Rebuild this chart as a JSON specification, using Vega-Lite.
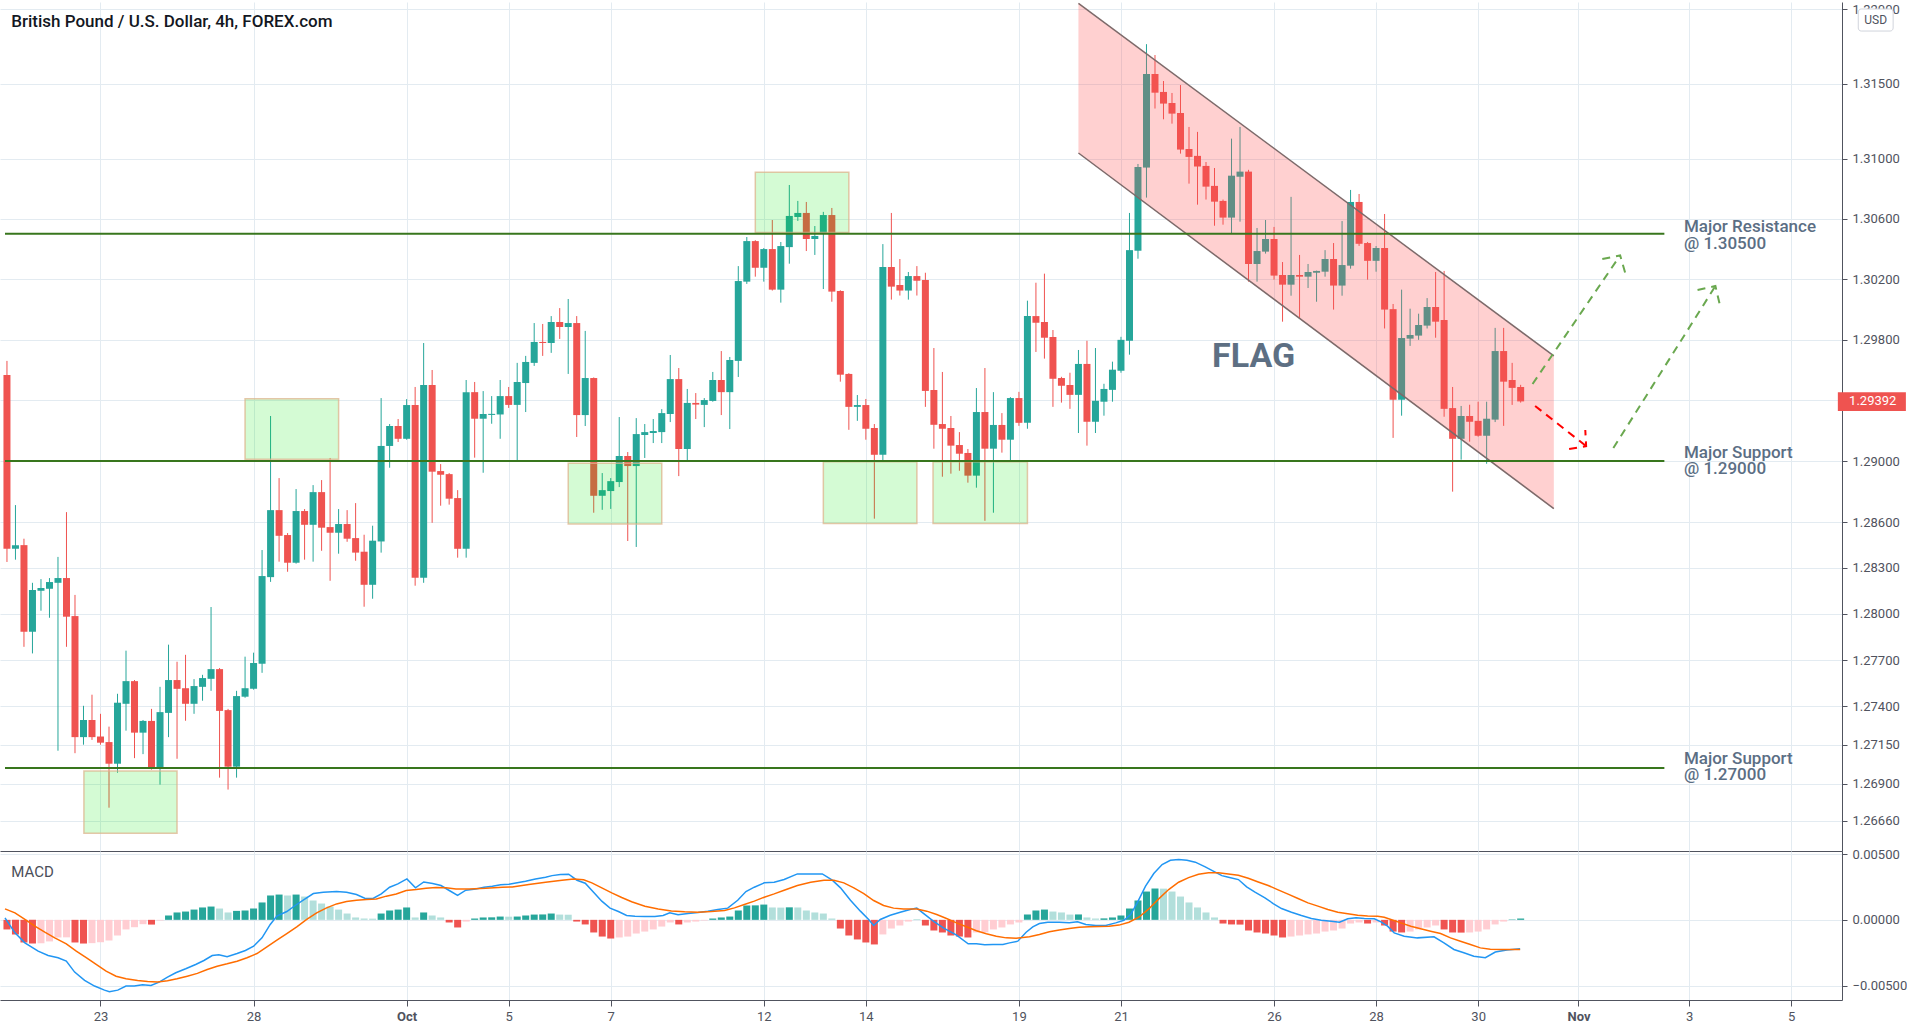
{
"$schema": "https://vega.github.io/schema/vega-lite/v6.json",
"background": "white",
"padding": 0,
"spacing": 0,
"bounds": "flush",
"resolve": {"scale": {"x": "independent", "y": "independent", "color": "independent"}},
"config": {"view": {"stroke": null}, "font": "Roboto"},
"datasets": {
"candles": [
{"i":1,"o":1.29566,"h":1.29659,"l":1.28339,"c":1.28425},
{"i":2,"o":1.28425,"h":1.28711,"l":1.28354,"c":1.28449},
{"i":3,"o":1.28449,"h":1.28491,"l":1.27786,"c":1.27884},
{"i":4,"o":1.27884,"h":1.28203,"l":1.27743,"c":1.28156},
{"i":5,"o":1.28151,"h":1.28227,"l":1.28021,"c":1.28169},
{"i":6,"o":1.28164,"h":1.28234,"l":1.27975,"c":1.28208},
{"i":7,"o":1.28203,"h":1.28372,"l":1.27112,"c":1.28234},
{"i":8,"o":1.28234,"h":1.28665,"l":1.27786,"c":1.27982},
{"i":9,"o":1.27986,"h":1.28124,"l":1.27096,"c":1.27200},
{"i":10,"o":1.27200,"h":1.27403,"l":1.27151,"c":1.27311},
{"i":11,"o":1.27311,"h":1.27475,"l":1.27182,"c":1.27200},
{"i":12,"o":1.27204,"h":1.27351,"l":1.27151,"c":1.27164},
{"i":13,"o":1.27168,"h":1.27268,"l":1.26744,"c":1.27028},
{"i":14,"o":1.27028,"h":1.27481,"l":1.26970,"c":1.27423},
{"i":15,"o":1.27416,"h":1.27761,"l":1.27242,"c":1.27563},
{"i":16,"o":1.27563,"h":1.27570,"l":1.27064,"c":1.27229},
{"i":17,"o":1.27229,"h":1.27311,"l":1.27090,"c":1.27305},
{"i":18,"o":1.27305,"h":1.27383,"l":1.26990,"c":1.26996},
{"i":19,"o":1.26996,"h":1.27526,"l":1.26893,"c":1.27362},
{"i":20,"o":1.27357,"h":1.27800,"l":1.27200,"c":1.27570},
{"i":21,"o":1.27570,"h":1.27689,"l":1.27060,"c":1.27513},
{"i":22,"o":1.27517,"h":1.27734,"l":1.27306,"c":1.27416},
{"i":23,"o":1.27416,"h":1.27576,"l":1.27351,"c":1.27531},
{"i":24,"o":1.27526,"h":1.27604,"l":1.27436,"c":1.27583},
{"i":25,"o":1.27578,"h":1.28045,"l":1.27500,"c":1.27641},
{"i":26,"o":1.27641,"h":1.27648,"l":1.26938,"c":1.27370},
{"i":27,"o":1.27375,"h":1.27383,"l":1.26861,"c":1.27009},
{"i":28,"o":1.27009,"h":1.27500,"l":1.26938,"c":1.27466},
{"i":29,"o":1.27462,"h":1.27722,"l":1.27455,"c":1.27517},
{"i":30,"o":1.27513,"h":1.27748,"l":1.27508,"c":1.27681},
{"i":31,"o":1.27676,"h":1.28417,"l":1.27617,"c":1.28247},
{"i":32,"o":1.28240,"h":1.29296,"l":1.28209,"c":1.28678},
{"i":33,"o":1.28678,"h":1.28888,"l":1.28341,"c":1.28510},
{"i":34,"o":1.28515,"h":1.28528,"l":1.28275,"c":1.28334},
{"i":35,"o":1.28334,"h":1.28816,"l":1.28328,"c":1.28672},
{"i":36,"o":1.28672,"h":1.28685,"l":1.28354,"c":1.28582},
{"i":37,"o":1.28582,"h":1.28842,"l":1.28341,"c":1.28796},
{"i":38,"o":1.28796,"h":1.28875,"l":1.28412,"c":1.28563},
{"i":39,"o":1.28567,"h":1.29020,"l":1.28216,"c":1.28530},
{"i":40,"o":1.28530,"h":1.28685,"l":1.28393,"c":1.28587},
{"i":41,"o":1.28587,"h":1.28678,"l":1.28471,"c":1.28491},
{"i":42,"o":1.28495,"h":1.28724,"l":1.28347,"c":1.28400},
{"i":43,"o":1.28406,"h":1.28517,"l":1.28047,"c":1.28190},
{"i":44,"o":1.28190,"h":1.28576,"l":1.28099,"c":1.28478},
{"i":45,"o":1.28473,"h":1.29414,"l":1.28400,"c":1.29099},
{"i":46,"o":1.29099,"h":1.29243,"l":1.28956,"c":1.29230},
{"i":47,"o":1.29230,"h":1.29276,"l":1.29125,"c":1.29146},
{"i":48,"o":1.29146,"h":1.29407,"l":1.29140,"c":1.29368},
{"i":49,"o":1.29368,"h":1.29487,"l":1.28184,"c":1.28236},
{"i":50,"o":1.28236,"h":1.29777,"l":1.28203,"c":1.29500},
{"i":51,"o":1.29500,"h":1.29599,"l":1.28595,"c":1.28930},
{"i":52,"o":1.28934,"h":1.28980,"l":1.28707,"c":1.28910},
{"i":53,"o":1.28914,"h":1.28921,"l":1.28714,"c":1.28753},
{"i":54,"o":1.28757,"h":1.28809,"l":1.28367,"c":1.28425},
{"i":55,"o":1.28425,"h":1.29533,"l":1.28367,"c":1.29453},
{"i":56,"o":1.29453,"h":1.29520,"l":1.29022,"c":1.29278},
{"i":57,"o":1.29278,"h":1.29460,"l":1.28923,"c":1.29309},
{"i":58,"o":1.29303,"h":1.29427,"l":1.29245,"c":1.29310},
{"i":59,"o":1.29306,"h":1.29533,"l":1.29146,"c":1.29427},
{"i":60,"o":1.29427,"h":1.29487,"l":1.29349,"c":1.29369},
{"i":61,"o":1.29369,"h":1.29646,"l":1.29000,"c":1.29520},
{"i":62,"o":1.29513,"h":1.29692,"l":1.29322,"c":1.29652},
{"i":63,"o":1.29646,"h":1.29909,"l":1.29626,"c":1.29784},
{"i":64,"o":1.29784,"h":1.29903,"l":1.29692,"c":1.29777},
{"i":65,"o":1.29777,"h":1.29955,"l":1.29712,"c":1.29916},
{"i":66,"o":1.29916,"h":1.30008,"l":1.29804,"c":1.29883},
{"i":67,"o":1.29883,"h":1.30068,"l":1.29573,"c":1.29909},
{"i":68,"o":1.29909,"h":1.29955,"l":1.29158,"c":1.29302},
{"i":69,"o":1.29302,"h":1.29857,"l":1.29230,"c":1.29546},
{"i":70,"o":1.29546,"h":1.29550,"l":1.28661,"c":1.28772},
{"i":71,"o":1.28772,"h":1.28921,"l":1.28680,"c":1.28809},
{"i":72,"o":1.28803,"h":1.28888,"l":1.28686,"c":1.28868},
{"i":73,"o":1.28862,"h":1.29289,"l":1.28829,"c":1.29033},
{"i":74,"o":1.29033,"h":1.29059,"l":1.28476,"c":1.28967},
{"i":75,"o":1.28967,"h":1.29282,"l":1.28437,"c":1.29177},
{"i":76,"o":1.29171,"h":1.29243,"l":1.29020,"c":1.29190},
{"i":77,"o":1.29184,"h":1.29276,"l":1.29118,"c":1.29197},
{"i":78,"o":1.29190,"h":1.29341,"l":1.29118,"c":1.29315},
{"i":79,"o":1.29309,"h":1.29698,"l":1.29256,"c":1.29539},
{"i":80,"o":1.29539,"h":1.29612,"l":1.28901,"c":1.29079},
{"i":81,"o":1.29079,"h":1.29474,"l":1.29000,"c":1.29382},
{"i":82,"o":1.29382,"h":1.29447,"l":1.29276,"c":1.29371},
{"i":83,"o":1.29369,"h":1.29414,"l":1.29223,"c":1.29401},
{"i":84,"o":1.29395,"h":1.29586,"l":1.29390,"c":1.29533},
{"i":85,"o":1.29533,"h":1.29724,"l":1.29302,"c":1.29453},
{"i":86,"o":1.29453,"h":1.29685,"l":1.29210,"c":1.29665},
{"i":87,"o":1.29659,"h":1.30286,"l":1.29553,"c":1.30187},
{"i":88,"o":1.30183,"h":1.30479,"l":1.30168,"c":1.30452},
{"i":89,"o":1.30452,"h":1.30458,"l":1.30216,"c":1.30275},
{"i":90,"o":1.30275,"h":1.30406,"l":1.30183,"c":1.30399},
{"i":91,"o":1.30399,"h":1.30592,"l":1.30124,"c":1.30130},
{"i":92,"o":1.30130,"h":1.30446,"l":1.30044,"c":1.30419},
{"i":93,"o":1.30412,"h":1.30825,"l":1.30302,"c":1.30619},
{"i":94,"o":1.30612,"h":1.30719,"l":1.30586,"c":1.30639},
{"i":95,"o":1.30639,"h":1.30712,"l":1.30386,"c":1.30466},
{"i":96,"o":1.30466,"h":1.30552,"l":1.30360,"c":1.30486},
{"i":97,"o":1.30499,"h":1.30646,"l":1.30134,"c":1.30625},
{"i":98,"o":1.30625,"h":1.30672,"l":1.30050,"c":1.30117},
{"i":99,"o":1.30121,"h":1.30126,"l":1.29522,"c":1.29568},
{"i":100,"o":1.29573,"h":1.29578,"l":1.29205,"c":1.29356},
{"i":101,"o":1.29356,"h":1.29434,"l":1.29264,"c":1.29368},
{"i":102,"o":1.29368,"h":1.29408,"l":1.29140,"c":1.29212},
{"i":103,"o":1.29217,"h":1.29243,"l":1.28622,"c":1.29041},
{"i":104,"o":1.29041,"h":1.30432,"l":1.29002,"c":1.30280},
{"i":105,"o":1.30280,"h":1.30639,"l":1.30064,"c":1.30150},
{"i":106,"o":1.30161,"h":1.30333,"l":1.30091,"c":1.30124},
{"i":107,"o":1.30124,"h":1.30247,"l":1.30064,"c":1.30220},
{"i":108,"o":1.30220,"h":1.30286,"l":1.30091,"c":1.30189},
{"i":109,"o":1.30194,"h":1.30242,"l":1.29356,"c":1.29461},
{"i":110,"o":1.29467,"h":1.29744,"l":1.29081,"c":1.29238},
{"i":111,"o":1.29243,"h":1.29586,"l":1.28897,"c":1.29212},
{"i":112,"o":1.29217,"h":1.29296,"l":1.28917,"c":1.29101},
{"i":113,"o":1.29105,"h":1.29190,"l":1.28936,"c":1.29048},
{"i":114,"o":1.29053,"h":1.29079,"l":1.28858,"c":1.28904},
{"i":115,"o":1.28904,"h":1.29480,"l":1.28825,"c":1.29322},
{"i":116,"o":1.29322,"h":1.29612,"l":1.28608,"c":1.29081},
{"i":117,"o":1.29081,"h":1.29453,"l":1.28661,"c":1.29237},
{"i":118,"o":1.29237,"h":1.29315,"l":1.29055,"c":1.29140},
{"i":119,"o":1.29140,"h":1.29420,"l":1.29000,"c":1.29414},
{"i":120,"o":1.29414,"h":1.29455,"l":1.29231,"c":1.29251},
{"i":121,"o":1.29251,"h":1.30057,"l":1.29212,"c":1.29955},
{"i":122,"o":1.29955,"h":1.30176,"l":1.29718,"c":1.29911},
{"i":123,"o":1.29916,"h":1.30236,"l":1.29674,"c":1.29812},
{"i":124,"o":1.29817,"h":1.29863,"l":1.29356,"c":1.29541},
{"i":125,"o":1.29546,"h":1.29554,"l":1.29384,"c":1.29495},
{"i":126,"o":1.29500,"h":1.29581,"l":1.29343,"c":1.29435},
{"i":127,"o":1.29435,"h":1.29731,"l":1.29184,"c":1.29639},
{"i":128,"o":1.29639,"h":1.29792,"l":1.29101,"c":1.29258},
{"i":129,"o":1.29258,"h":1.29744,"l":1.29184,"c":1.29396},
{"i":130,"o":1.29390,"h":1.29508,"l":1.29298,"c":1.29474},
{"i":131,"o":1.29468,"h":1.29654,"l":1.29390,"c":1.29601},
{"i":132,"o":1.29594,"h":1.29818,"l":1.29581,"c":1.29798},
{"i":133,"o":1.29792,"h":1.30639,"l":1.29700,"c":1.30392},
{"i":134,"o":1.30388,"h":1.30965,"l":1.30335,"c":1.30945},
{"i":135,"o":1.30941,"h":1.31766,"l":1.30741,"c":1.31566},
{"i":136,"o":1.31566,"h":1.31693,"l":1.31335,"c":1.31441},
{"i":137,"o":1.31446,"h":1.31519,"l":1.31263,"c":1.31368},
{"i":138,"o":1.31372,"h":1.31439,"l":1.31234,"c":1.31301},
{"i":139,"o":1.31305,"h":1.31492,"l":1.31034,"c":1.31061},
{"i":140,"o":1.31065,"h":1.31212,"l":1.30834,"c":1.31012},
{"i":141,"o":1.31019,"h":1.31179,"l":1.30694,"c":1.30948},
{"i":142,"o":1.30952,"h":1.30978,"l":1.30728,"c":1.30814},
{"i":143,"o":1.30819,"h":1.30938,"l":1.30554,"c":1.30714},
{"i":144,"o":1.30719,"h":1.30728,"l":1.30561,"c":1.30608},
{"i":145,"o":1.30608,"h":1.31134,"l":1.30501,"c":1.30887},
{"i":146,"o":1.30880,"h":1.31212,"l":1.30581,"c":1.30914},
{"i":147,"o":1.30914,"h":1.30926,"l":1.30183,"c":1.30300},
{"i":148,"o":1.30300,"h":1.30539,"l":1.30183,"c":1.30386},
{"i":149,"o":1.30382,"h":1.30592,"l":1.30369,"c":1.30466},
{"i":150,"o":1.30466,"h":1.30546,"l":1.30196,"c":1.30223},
{"i":151,"o":1.30227,"h":1.30313,"l":1.29918,"c":1.30163},
{"i":152,"o":1.30163,"h":1.30746,"l":1.30090,"c":1.30227},
{"i":153,"o":1.30227,"h":1.30360,"l":1.29944,"c":1.30216},
{"i":154,"o":1.30216,"h":1.30300,"l":1.30141,"c":1.30247},
{"i":155,"o":1.30242,"h":1.30256,"l":1.30050,"c":1.30254},
{"i":156,"o":1.30249,"h":1.30392,"l":1.30216,"c":1.30333},
{"i":157,"o":1.30333,"h":1.30439,"l":1.29998,"c":1.30157},
{"i":158,"o":1.30157,"h":1.30585,"l":1.30090,"c":1.30293},
{"i":159,"o":1.30289,"h":1.30792,"l":1.30269,"c":1.30712},
{"i":160,"o":1.30712,"h":1.30765,"l":1.30420,"c":1.30434},
{"i":161,"o":1.30439,"h":1.30446,"l":1.30196,"c":1.30321},
{"i":162,"o":1.30321,"h":1.30419,"l":1.30249,"c":1.30406},
{"i":163,"o":1.30406,"h":1.30632,"l":1.29873,"c":1.29998},
{"i":164,"o":1.30001,"h":1.30035,"l":1.29152,"c":1.29403},
{"i":165,"o":1.29403,"h":1.30130,"l":1.29298,"c":1.29810},
{"i":166,"o":1.29806,"h":1.30004,"l":1.29758,"c":1.29830},
{"i":167,"o":1.29826,"h":1.29971,"l":1.29798,"c":1.29896},
{"i":168,"o":1.29892,"h":1.30074,"l":1.29873,"c":1.30015},
{"i":169,"o":1.30015,"h":1.30247,"l":1.29812,"c":1.29918},
{"i":170,"o":1.29929,"h":1.30254,"l":1.29291,"c":1.29343},
{"i":171,"o":1.29348,"h":1.29487,"l":1.28799,"c":1.29146},
{"i":172,"o":1.29146,"h":1.29362,"l":1.29009,"c":1.29296},
{"i":173,"o":1.29296,"h":1.29370,"l":1.29127,"c":1.29258},
{"i":174,"o":1.29264,"h":1.29390,"l":1.29160,"c":1.29166},
{"i":175,"o":1.29166,"h":1.29390,"l":1.28982,"c":1.29278},
{"i":176,"o":1.29272,"h":1.29877,"l":1.29256,"c":1.29724},
{"i":177,"o":1.29724,"h":1.29877,"l":1.29231,"c":1.29522},
{"i":178,"o":1.29533,"h":1.29646,"l":1.29369,"c":1.29481},
{"i":179,"o":1.29487,"h":1.29501,"l":1.29384,"c":1.29392}
],
"hist": [
{"i":1,"h":-0.00073,"d":"f"},{"i":2,"h":-0.00111,"d":"f"},{"i":3,"h":-0.00172,"d":"f"},{"i":4,"h":-0.00180,"d":"f"},{"i":5,"h":-0.00178,"d":"r"},{"i":6,"h":-0.00164,"d":"r"},{"i":7,"h":-0.00134,"d":"r"},{"i":8,"h":-0.00133,"d":"r"},{"i":9,"h":-0.00172,"d":"f"},{"i":10,"h":-0.00180,"d":"f"},
{"i":11,"h":-0.00177,"d":"r"},{"i":12,"h":-0.00170,"d":"r"},{"i":13,"h":-0.00157,"d":"r"},{"i":14,"h":-0.00119,"d":"r"},{"i":15,"h":-0.00073,"d":"r"},{"i":16,"h":-0.00056,"d":"r"},{"i":17,"h":-0.00033,"d":"r"},{"i":18,"h":-0.00036,"d":"f"},{"i":19,"h":-0.00005,"d":"r"},{"i":20,"h":0.00033,"d":"r"},
{"i":21,"h":0.00056,"d":"r"},{"i":22,"h":0.00063,"d":"r"},{"i":23,"h":0.00078,"d":"r"},{"i":24,"h":0.00094,"d":"r"},{"i":25,"h":0.00101,"d":"r"},{"i":26,"h":0.00086,"d":"f"},{"i":27,"h":0.00056,"d":"f"},{"i":28,"h":0.00068,"d":"r"},{"i":29,"h":0.00071,"d":"r"},{"i":30,"h":0.00086,"d":"r"},
{"i":31,"h":0.00132,"d":"r"},{"i":32,"h":0.00185,"d":"r"},{"i":33,"h":0.00192,"d":"r"},{"i":34,"h":0.00185,"d":"f"},{"i":35,"h":0.00192,"d":"r"},{"i":36,"h":0.00177,"d":"f"},{"i":37,"h":0.00147,"d":"f"},{"i":38,"h":0.00124,"d":"f"},{"i":39,"h":0.00101,"d":"f"},{"i":40,"h":0.00078,"d":"f"},
{"i":41,"h":0.00048,"d":"f"},{"i":42,"h":0.00018,"d":"f"},{"i":43,"h":0.00010,"d":"f"},{"i":44,"h":0.00009,"d":"f"},{"i":45,"h":0.00048,"d":"r"},{"i":46,"h":0.00071,"d":"r"},{"i":47,"h":0.00078,"d":"r"},{"i":48,"h":0.00094,"d":"r"},{"i":49,"h":0.00018,"d":"f"},{"i":50,"h":0.00056,"d":"r"},
{"i":51,"h":0.00033,"d":"f"},{"i":52,"h":0.00018,"d":"f"},{"i":53,"h":-0.00020,"d":"f"},{"i":54,"h":-0.00058,"d":"f"},{"i":55,"h":-0.00013,"d":"r"},{"i":56,"h":0.00010,"d":"r"},{"i":57,"h":0.00018,"d":"r"},{"i":58,"h":0.00019,"d":"r"},{"i":59,"h":0.00025,"d":"r"},{"i":60,"h":0.00024,"d":"f"},
{"i":61,"h":0.00025,"d":"r"},{"i":62,"h":0.00033,"d":"r"},{"i":63,"h":0.00040,"d":"r"},{"i":64,"h":0.00041,"d":"r"},{"i":65,"h":0.00048,"d":"r"},{"i":66,"h":0.00040,"d":"f"},{"i":67,"h":0.00039,"d":"f"},{"i":68,"h":-0.00013,"d":"f"},{"i":69,"h":-0.00035,"d":"f"},{"i":70,"h":-0.00096,"d":"f"},
{"i":71,"h":-0.00127,"d":"f"},{"i":72,"h":-0.00142,"d":"f"},{"i":73,"h":-0.00134,"d":"r"},{"i":74,"h":-0.00127,"d":"r"},{"i":75,"h":-0.00104,"d":"r"},{"i":76,"h":-0.00089,"d":"r"},{"i":77,"h":-0.00073,"d":"r"},{"i":78,"h":-0.00051,"d":"r"},{"i":79,"h":-0.00020,"d":"r"},{"i":80,"h":-0.00035,"d":"f"},
{"i":81,"h":-0.00020,"d":"r"},{"i":82,"h":-0.00013,"d":"r"},{"i":83,"h":-0.00005,"d":"r"},{"i":84,"h":0.00010,"d":"r"},{"i":85,"h":0.00018,"d":"r"},{"i":86,"h":0.00025,"d":"r"},{"i":87,"h":0.00071,"d":"r"},{"i":88,"h":0.00109,"d":"r"},{"i":89,"h":0.00110,"d":"r"},{"i":90,"h":0.00116,"d":"r"},
{"i":91,"h":0.00094,"d":"f"},{"i":92,"h":0.00093,"d":"f"},{"i":93,"h":0.00095,"d":"r"},{"i":94,"h":0.00094,"d":"f"},{"i":95,"h":0.00071,"d":"f"},{"i":96,"h":0.00056,"d":"f"},{"i":97,"h":0.00048,"d":"f"},{"i":98,"h":0.00010,"d":"f"},{"i":99,"h":-0.00066,"d":"f"},{"i":100,"h":-0.00119,"d":"f"},
{"i":101,"h":-0.00149,"d":"f"},{"i":102,"h":-0.00172,"d":"f"},{"i":103,"h":-0.00187,"d":"f"},{"i":104,"h":-0.00111,"d":"r"},{"i":105,"h":-0.00066,"d":"r"},{"i":106,"h":-0.00043,"d":"r"},{"i":107,"h":-0.00013,"d":"r"},{"i":108,"h":0.00002,"d":"r"},{"i":109,"h":-0.00043,"d":"f"},{"i":110,"h":-0.00081,"d":"f"},
{"i":111,"h":-0.00096,"d":"f"},{"i":112,"h":-0.00119,"d":"f"},{"i":113,"h":-0.00127,"d":"f"},{"i":114,"h":-0.00134,"d":"f"},{"i":115,"h":-0.00096,"d":"r"},{"i":116,"h":-0.00095,"d":"r"},{"i":117,"h":-0.00073,"d":"r"},{"i":118,"h":-0.00058,"d":"r"},{"i":119,"h":-0.00035,"d":"r"},{"i":120,"h":-0.00020,"d":"r"},
{"i":121,"h":0.00040,"d":"r"},{"i":122,"h":0.00071,"d":"r"},{"i":123,"h":0.00078,"d":"r"},{"i":124,"h":0.00063,"d":"f"},{"i":125,"h":0.00056,"d":"f"},{"i":126,"h":0.00040,"d":"f"},{"i":127,"h":0.00041,"d":"r"},{"i":128,"h":0.00018,"d":"f"},{"i":129,"h":0.00010,"d":"f"},{"i":130,"h":0.00011,"d":"r"},
{"i":131,"h":0.00018,"d":"r"},{"i":132,"h":0.00033,"d":"r"},{"i":133,"h":0.00086,"d":"r"},{"i":134,"h":0.00147,"d":"r"},{"i":135,"h":0.00215,"d":"r"},{"i":136,"h":0.00238,"d":"r"},{"i":137,"h":0.00237,"d":"f"},{"i":138,"h":0.00215,"d":"f"},{"i":139,"h":0.00177,"d":"f"},{"i":140,"h":0.00132,"d":"f"},
{"i":141,"h":0.00094,"d":"f"},{"i":142,"h":0.00056,"d":"f"},{"i":143,"h":0.00018,"d":"f"},{"i":144,"h":-0.00028,"d":"f"},{"i":145,"h":-0.00035,"d":"f"},{"i":146,"h":-0.00036,"d":"f"},{"i":147,"h":-0.00081,"d":"f"},{"i":148,"h":-0.00096,"d":"f"},{"i":149,"h":-0.00104,"d":"f"},{"i":150,"h":-0.00119,"d":"f"},
{"i":151,"h":-0.00134,"d":"f"},{"i":152,"h":-0.00127,"d":"r"},{"i":153,"h":-0.00119,"d":"r"},{"i":154,"h":-0.00111,"d":"r"},{"i":155,"h":-0.00104,"d":"r"},{"i":156,"h":-0.00089,"d":"r"},{"i":157,"h":-0.00081,"d":"r"},{"i":158,"h":-0.00066,"d":"r"},{"i":159,"h":-0.00028,"d":"r"},{"i":160,"h":-0.00020,"d":"r"},
{"i":161,"h":-0.00028,"d":"f"},{"i":162,"h":-0.00020,"d":"r"},{"i":163,"h":-0.00043,"d":"f"},{"i":164,"h":-0.00089,"d":"f"},{"i":165,"h":-0.00096,"d":"f"},{"i":166,"h":-0.00089,"d":"r"},{"i":167,"h":-0.00073,"d":"r"},{"i":168,"h":-0.00058,"d":"r"},{"i":169,"h":-0.00043,"d":"r"},{"i":170,"h":-0.00073,"d":"f"},
{"i":171,"h":-0.00096,"d":"f"},{"i":172,"h":-0.00097,"d":"f"},{"i":173,"h":-0.00096,"d":"r"},{"i":174,"h":-0.00089,"d":"r"},{"i":175,"h":-0.00073,"d":"r"},{"i":176,"h":-0.00035,"d":"r"},{"i":177,"h":-0.00013,"d":"r"},{"i":178,"h":0.00003,"d":"r"},{"i":179,"h":0.00010,"d":"r"}
],
"lines": [
{"i":0.77,"v":0.00015,"s":"MACD"},{"i":1.94,"v":-0.00099,"s":"MACD"},{"i":3.11,"v":-0.00175,"s":"MACD"},{"i":4.67,"v":-0.00238,"s":"MACD"},{"i":5.84,"v":-0.00271,"s":"MACD"},{"i":7.01,"v":-0.00288,"s":"MACD"},{"i":7.98,"v":-0.00314,"s":"MACD"},{"i":8.96,"v":-0.00397,"s":"MACD"},{"i":10.13,"v":-0.0046,"s":"MACD"},{"i":11.3,"v":-0.00503,"s":"MACD"},
{"i":12.47,"v":-0.00534,"s":"MACD"},{"i":13.05,"v":-0.00546,"s":"MACD"},{"i":14.03,"v":-0.00534,"s":"MACD"},{"i":15.0,"v":-0.00503,"s":"MACD"},{"i":15.98,"v":-0.00503,"s":"MACD"},{"i":16.95,"v":-0.00493,"s":"MACD"},{"i":17.93,"v":-0.00498,"s":"MACD"},{"i":18.9,"v":-0.00473,"s":"MACD"},{"i":19.88,"v":-0.00435,"s":"MACD"},{"i":20.85,"v":-0.00402,"s":"MACD"},
{"i":22.02,"v":-0.00372,"s":"MACD"},{"i":23.19,"v":-0.00339,"s":"MACD"},{"i":24.16,"v":-0.00309,"s":"MACD"},{"i":25.14,"v":-0.00271,"s":"MACD"},{"i":25.92,"v":-0.00266,"s":"MACD"},{"i":26.89,"v":-0.00281,"s":"MACD"},{"i":28.06,"v":-0.00256,"s":"MACD"},{"i":29.04,"v":-0.00233,"s":"MACD"},{"i":30.01,"v":-0.002,"s":"MACD"},{"i":30.99,"v":-0.00137,"s":"MACD"},
{"i":31.96,"v":-0.00035,"s":"MACD"},{"i":32.74,"v":0.00028,"s":"MACD"},{"i":33.91,"v":0.00063,"s":"MACD"},{"i":34.89,"v":0.00109,"s":"MACD"},{"i":36.06,"v":0.00159,"s":"MACD"},{"i":37.03,"v":0.002,"s":"MACD"},{"i":38.2,"v":0.0021,"s":"MACD"},{"i":39.76,"v":0.00215,"s":"MACD"},{"i":40.93,"v":0.0021,"s":"MACD"},{"i":42.1,"v":0.00192,"s":"MACD"},
{"i":43.07,"v":0.00164,"s":"MACD"},{"i":44.05,"v":0.00162,"s":"MACD"},{"i":45.02,"v":0.00197,"s":"MACD"},{"i":46.0,"v":0.00248,"s":"MACD"},{"i":46.97,"v":0.00273,"s":"MACD"},{"i":48.03,"v":0.00311,"s":"MACD"},{"i":49.04,"v":0.00243,"s":"MACD"},{"i":50.01,"v":0.00288,"s":"MACD"},{"i":51.06,"v":0.00276,"s":"MACD"},{"i":52.04,"v":0.00261,"s":"MACD"},
{"i":53.01,"v":0.00223,"s":"MACD"},{"i":53.99,"v":0.00185,"s":"MACD"},{"i":54.96,"v":0.00225,"s":"MACD"},{"i":56.13,"v":0.00235,"s":"MACD"},{"i":57.11,"v":0.00248,"s":"MACD"},{"i":58.08,"v":0.00256,"s":"MACD"},{"i":59.06,"v":0.00266,"s":"MACD"},{"i":60.03,"v":0.00271,"s":"MACD"},{"i":61.98,"v":0.00293,"s":"MACD"},{"i":63.15,"v":0.00311,"s":"MACD"},
{"i":64.34,"v":0.00324,"s":"MACD"},{"i":65.1,"v":0.00336,"s":"MACD"},{"i":66.08,"v":0.00344,"s":"MACD"},{"i":67.05,"v":0.00347,"s":"MACD"},{"i":68.03,"v":0.00301,"s":"MACD"},{"i":69.0,"v":0.00278,"s":"MACD"},{"i":69.98,"v":0.0021,"s":"MACD"},{"i":70.95,"v":0.00142,"s":"MACD"},{"i":71.92,"v":0.00089,"s":"MACD"},{"i":72.9,"v":0.00063,"s":"MACD"},
{"i":73.87,"v":0.00033,"s":"MACD"},{"i":74.85,"v":0.00028,"s":"MACD"},{"i":76.02,"v":0.00025,"s":"MACD"},{"i":77.19,"v":0.00025,"s":"MACD"},{"i":78.16,"v":0.00033,"s":"MACD"},{"i":78.94,"v":0.00053,"s":"MACD"},{"i":79.92,"v":0.00038,"s":"MACD"},{"i":81.09,"v":0.00048,"s":"MACD"},{"i":82.26,"v":0.00056,"s":"MACD"},{"i":83.42,"v":0.00066,"s":"MACD"},
{"i":84.59,"v":0.00078,"s":"MACD"},{"i":85.76,"v":0.00089,"s":"MACD"},{"i":86.93,"v":0.00149,"s":"MACD"},{"i":87.9,"v":0.00215,"s":"MACD"},{"i":88.88,"v":0.00248,"s":"MACD"},{"i":90.05,"v":0.00281,"s":"MACD"},{"i":91.22,"v":0.00286,"s":"MACD"},{"i":92.39,"v":0.00306,"s":"MACD"},{"i":93.95,"v":0.00349,"s":"MACD"},{"i":95.51,"v":0.00349,"s":"MACD"},
{"i":96.88,"v":0.00349,"s":"MACD"},{"i":98.05,"v":0.00301,"s":"MACD"},{"i":99.02,"v":0.00243,"s":"MACD"},{"i":100.19,"v":0.00149,"s":"MACD"},{"i":101.36,"v":0.00066,"s":"MACD"},{"i":102.33,"v":0.00003,"s":"MACD"},{"i":102.92,"v":-0.00043,"s":"MACD"},{"i":103.7,"v":0.00003,"s":"MACD"},{"i":104.87,"v":0.00035,"s":"MACD"},{"i":106.04,"v":0.00058,"s":"MACD"},
{"i":107.21,"v":0.00078,"s":"MACD"},{"i":107.99,"v":0.00089,"s":"MACD"},{"i":108.96,"v":0.0004,"s":"MACD"},{"i":109.94,"v":-0.0001,"s":"MACD"},{"i":111.11,"v":-0.00061,"s":"MACD"},{"i":112.67,"v":-0.00116,"s":"MACD"},{"i":114.03,"v":-0.00182,"s":"MACD"},{"i":115.0,"v":-0.00182,"s":"MACD"},{"i":115.98,"v":-0.0019,"s":"MACD"},{"i":116.95,"v":-0.00187,"s":"MACD"},
{"i":118.12,"v":-0.00187,"s":"MACD"},{"i":118.9,"v":-0.00175,"s":"MACD"},{"i":119.87,"v":-0.00162,"s":"MACD"},{"i":120.85,"v":-0.00094,"s":"MACD"},{"i":121.63,"v":-0.00053,"s":"MACD"},{"i":122.41,"v":-0.00028,"s":"MACD"},{"i":123.39,"v":-0.00018,"s":"MACD"},{"i":124.75,"v":-0.00018,"s":"MACD"},{"i":125.92,"v":-0.00023,"s":"MACD"},{"i":126.89,"v":-0.00015,"s":"MACD"},
{"i":127.87,"v":-0.00035,"s":"MACD"},{"i":129.04,"v":-0.00043,"s":"MACD"},{"i":130.21,"v":-0.00043,"s":"MACD"},{"i":131.38,"v":-0.00023,"s":"MACD"},{"i":132.35,"v":-0.00003,"s":"MACD"},{"i":133.13,"v":0.0004,"s":"MACD"},{"i":133.91,"v":0.00129,"s":"MACD"},{"i":134.89,"v":0.00256,"s":"MACD"},{"i":135.86,"v":0.00352,"s":"MACD"},{"i":136.84,"v":0.0042,"s":"MACD"},
{"i":137.81,"v":0.00453,"s":"MACD"},{"i":138.79,"v":0.00458,"s":"MACD"},{"i":139.76,"v":0.00453,"s":"MACD"},{"i":140.74,"v":0.00438,"s":"MACD"},{"i":141.91,"v":0.00402,"s":"MACD"},{"i":143.08,"v":0.00362,"s":"MACD"},{"i":143.86,"v":0.00336,"s":"MACD"},{"i":144.64,"v":0.00324,"s":"MACD"},{"i":145.81,"v":0.00306,"s":"MACD"},{"i":146.78,"v":0.0025,"s":"MACD"},
{"i":147.76,"v":0.0021,"s":"MACD"},{"i":148.93,"v":0.00167,"s":"MACD"},{"i":149.9,"v":0.00124,"s":"MACD"},{"i":150.88,"v":0.00086,"s":"MACD"},{"i":152.05,"v":0.00058,"s":"MACD"},{"i":153.22,"v":0.00033,"s":"MACD"},{"i":154.39,"v":0.0001,"s":"MACD"},{"i":155.55,"v":-0.00003,"s":"MACD"},{"i":156.72,"v":-0.0001,"s":"MACD"},{"i":157.7,"v":-0.00018,"s":"MACD"},
{"i":158.67,"v":0.00008,"s":"MACD"},{"i":159.65,"v":0.00015,"s":"MACD"},{"i":160.62,"v":0.0001,"s":"MACD"},{"i":161.79,"v":0.00008,"s":"MACD"},{"i":162.57,"v":-0.00015,"s":"MACD"},{"i":163.35,"v":-0.00048,"s":"MACD"},{"i":164.13,"v":-0.00099,"s":"MACD"},{"i":165.3,"v":-0.00124,"s":"MACD"},{"i":166.86,"v":-0.00137,"s":"MACD"},{"i":168.81,"v":-0.00129,"s":"MACD"},
{"i":169.98,"v":-0.00175,"s":"MACD"},{"i":171.15,"v":-0.00225,"s":"MACD"},{"i":172.32,"v":-0.0025,"s":"MACD"},{"i":173.49,"v":-0.00276,"s":"MACD"},{"i":174.85,"v":-0.00288,"s":"MACD"},{"i":176.02,"v":-0.00245,"s":"MACD"},{"i":177.38,"v":-0.0023,"s":"MACD"},{"i":178.94,"v":-0.0022,"s":"MACD"},
{"i":0.77,"v":0.00083,"s":"Signal"},{"i":1.94,"v":0.00053,"s":"Signal"},{"i":3.11,"v":0.00003,"s":"Signal"},{"i":4.28,"v":-0.00048,"s":"Signal"},{"i":5.45,"v":-0.00094,"s":"Signal"},{"i":6.62,"v":-0.00137,"s":"Signal"},{"i":7.98,"v":-0.00182,"s":"Signal"},{"i":9.15,"v":-0.00238,"s":"Signal"},{"i":10.32,"v":-0.00288,"s":"Signal"},{"i":11.49,"v":-0.00339,"s":"Signal"},
{"i":12.66,"v":-0.0039,"s":"Signal"},{"i":13.83,"v":-0.00428,"s":"Signal"},{"i":15.0,"v":-0.00448,"s":"Signal"},{"i":16.37,"v":-0.0046,"s":"Signal"},{"i":17.54,"v":-0.00468,"s":"Signal"},{"i":18.71,"v":-0.00473,"s":"Signal"},{"i":19.88,"v":-0.00463,"s":"Signal"},{"i":21.0,"v":-0.00448,"s":"Signal"},{"i":22.2,"v":-0.00428,"s":"Signal"},{"i":23.39,"v":-0.00407,"s":"Signal"},
{"i":24.55,"v":-0.00377,"s":"Signal"},{"i":25.72,"v":-0.00352,"s":"Signal"},{"i":26.89,"v":-0.00334,"s":"Signal"},{"i":28.06,"v":-0.00314,"s":"Signal"},{"i":29.23,"v":-0.00288,"s":"Signal"},{"i":30.4,"v":-0.00256,"s":"Signal"},{"i":31.57,"v":-0.00205,"s":"Signal"},{"i":32.74,"v":-0.00154,"s":"Signal"},{"i":33.91,"v":-0.00104,"s":"Signal"},{"i":35.08,"v":-0.00053,"s":"Signal"},
{"i":36.25,"v":0.00003,"s":"Signal"},{"i":37.42,"v":0.00053,"s":"Signal"},{"i":38.59,"v":0.00091,"s":"Signal"},{"i":39.76,"v":0.00121,"s":"Signal"},{"i":40.93,"v":0.00139,"s":"Signal"},{"i":42.1,"v":0.00149,"s":"Signal"},{"i":43.27,"v":0.00154,"s":"Signal"},{"i":44.44,"v":0.00159,"s":"Signal"},{"i":45.61,"v":0.0018,"s":"Signal"},{"i":46.78,"v":0.00197,"s":"Signal"},
{"i":47.95,"v":0.00223,"s":"Signal"},{"i":49.12,"v":0.0023,"s":"Signal"},{"i":50.28,"v":0.0024,"s":"Signal"},{"i":51.45,"v":0.00245,"s":"Signal"},{"i":52.63,"v":0.00243,"s":"Signal"},{"i":53.8,"v":0.00235,"s":"Signal"},{"i":55.35,"v":0.00235,"s":"Signal"},{"i":57.3,"v":0.0024,"s":"Signal"},{"i":59.25,"v":0.00248,"s":"Signal"},{"i":60.42,"v":0.0025,"s":"Signal"},
{"i":62.37,"v":0.00268,"s":"Signal"},{"i":64.34,"v":0.00286,"s":"Signal"},{"i":66.27,"v":0.00301,"s":"Signal"},{"i":67.64,"v":0.00311,"s":"Signal"},{"i":68.81,"v":0.00304,"s":"Signal"},{"i":69.78,"v":0.00281,"s":"Signal"},{"i":70.95,"v":0.00243,"s":"Signal"},{"i":72.12,"v":0.00205,"s":"Signal"},{"i":73.29,"v":0.0017,"s":"Signal"},{"i":74.46,"v":0.00137,"s":"Signal"},
{"i":76.02,"v":0.00104,"s":"Signal"},{"i":77.58,"v":0.00083,"s":"Signal"},{"i":79.13,"v":0.00068,"s":"Signal"},{"i":80.69,"v":0.00061,"s":"Signal"},{"i":82.26,"v":0.00058,"s":"Signal"},{"i":83.82,"v":0.00063,"s":"Signal"},{"i":85.38,"v":0.00071,"s":"Signal"},{"i":86.55,"v":0.00091,"s":"Signal"},{"i":87.71,"v":0.00116,"s":"Signal"},{"i":88.88,"v":0.00142,"s":"Signal"},
{"i":90.05,"v":0.00172,"s":"Signal"},{"i":91.22,"v":0.00197,"s":"Signal"},{"i":92.39,"v":0.00225,"s":"Signal"},{"i":93.95,"v":0.00261,"s":"Signal"},{"i":95.51,"v":0.00286,"s":"Signal"},{"i":97.07,"v":0.00301,"s":"Signal"},{"i":98.24,"v":0.00301,"s":"Signal"},{"i":99.41,"v":0.00281,"s":"Signal"},{"i":100.59,"v":0.00243,"s":"Signal"},{"i":101.76,"v":0.002,"s":"Signal"},
{"i":102.92,"v":0.00147,"s":"Signal"},{"i":104.09,"v":0.00109,"s":"Signal"},{"i":105.26,"v":0.00089,"s":"Signal"},{"i":106.43,"v":0.00083,"s":"Signal"},{"i":107.99,"v":0.00083,"s":"Signal"},{"i":109.16,"v":0.00066,"s":"Signal"},{"i":110.33,"v":0.0004,"s":"Signal"},{"i":111.49,"v":0.0001,"s":"Signal"},{"i":112.66,"v":-0.00023,"s":"Signal"},{"i":113.83,"v":-0.00053,"s":"Signal"},
{"i":115.0,"v":-0.00083,"s":"Signal"},{"i":116.17,"v":-0.00106,"s":"Signal"},{"i":117.34,"v":-0.00124,"s":"Signal"},{"i":118.51,"v":-0.00137,"s":"Signal"},{"i":119.68,"v":-0.00139,"s":"Signal"},{"i":121.24,"v":-0.00129,"s":"Signal"},{"i":122.41,"v":-0.00111,"s":"Signal"},{"i":123.58,"v":-0.00091,"s":"Signal"},{"i":124.75,"v":-0.00078,"s":"Signal"},{"i":125.92,"v":-0.00066,"s":"Signal"},
{"i":127.09,"v":-0.00056,"s":"Signal"},{"i":128.26,"v":-0.00053,"s":"Signal"},{"i":129.43,"v":-0.00051,"s":"Signal"},{"i":130.6,"v":-0.00048,"s":"Signal"},{"i":131.77,"v":-0.0004,"s":"Signal"},{"i":132.94,"v":-0.00018,"s":"Signal"},{"i":134.1,"v":0.0002,"s":"Signal"},{"i":135.27,"v":0.00083,"s":"Signal"},{"i":136.44,"v":0.00159,"s":"Signal"},{"i":137.61,"v":0.0023,"s":"Signal"},
{"i":138.78,"v":0.00286,"s":"Signal"},{"i":139.95,"v":0.00321,"s":"Signal"},{"i":141.12,"v":0.00347,"s":"Signal"},{"i":142.29,"v":0.00357,"s":"Signal"},{"i":143.46,"v":0.00357,"s":"Signal"},{"i":144.63,"v":0.00349,"s":"Signal"},{"i":145.8,"v":0.00339,"s":"Signal"},{"i":146.97,"v":0.00316,"s":"Signal"},{"i":148.14,"v":0.00288,"s":"Signal"},{"i":149.31,"v":0.00261,"s":"Signal"},
{"i":150.48,"v":0.00228,"s":"Signal"},{"i":151.65,"v":0.00195,"s":"Signal"},{"i":152.82,"v":0.00162,"s":"Signal"},{"i":153.99,"v":0.00129,"s":"Signal"},{"i":155.16,"v":0.00104,"s":"Signal"},{"i":156.33,"v":0.00078,"s":"Signal"},{"i":157.5,"v":0.00058,"s":"Signal"},{"i":158.67,"v":0.00046,"s":"Signal"},{"i":159.84,"v":0.00035,"s":"Signal"},{"i":161.01,"v":0.0003,"s":"Signal"},
{"i":162.18,"v":0.00028,"s":"Signal"},{"i":162.96,"v":0.0002,"s":"Signal"},{"i":163.74,"v":0.00003,"s":"Signal"},{"i":164.91,"v":-0.00023,"s":"Signal"},{"i":166.08,"v":-0.00048,"s":"Signal"},{"i":167.25,"v":-0.00068,"s":"Signal"},{"i":168.41,"v":-0.00086,"s":"Signal"},{"i":169.58,"v":-0.00104,"s":"Signal"},{"i":170.75,"v":-0.00137,"s":"Signal"},{"i":171.92,"v":-0.00162,"s":"Signal"},
{"i":173.09,"v":-0.00187,"s":"Signal"},{"i":174.26,"v":-0.00213,"s":"Signal"},{"i":175.43,"v":-0.00223,"s":"Signal"},{"i":176.6,"v":-0.00225,"s":"Signal"},{"i":177.77,"v":-0.00225,"s":"Signal"},{"i":178.94,"v":-0.00225,"s":"Signal"}
],
"levels": [
{"i":0.77,"i2":195.9,"p":1.305},
{"i":0.77,"i2":195.9,"p":1.29},
{"i":0.77,"i2":195.9,"p":1.27}
],
"boxes": [
{"i":10.05,"i2":21.0,"p":1.26981,"p2":1.2658},
{"i":29.0,"i2":40.0,"p":1.2941,"p2":1.29011},
{"i":67.0,"i2":78.0,"p":1.28985,"p2":1.28587},
{"i":89.0,"i2":100.0,"p":1.30909,"p2":1.30509},
{"i":97.0,"i2":108.0,"p":1.28995,"p2":1.28591},
{"i":109.9,"i2":121.0,"p":1.28995,"p2":1.28591}
],
"channel": [
{"i":127.0,"top":1.3204,"bot":1.31038},
{"i":182.9,"top":1.29692,"bot":1.28688}
],
"arrows": [
{"g":"a1","c":"g","o":1,"i":180.4,"p":1.29507},{"g":"a1","c":"g","o":2,"i":190.7,"p":1.30357},
{"g":"a1h","c":"g","o":1,"i":188.6,"p":1.30333},{"g":"a1h","c":"g","o":2,"i":190.7,"p":1.30357},{"g":"a1h","c":"g","o":3,"i":191.3,"p":1.3024},
{"g":"a2","c":"g","o":1,"i":189.9,"p":1.29085},{"g":"a2","c":"g","o":2,"i":201.9,"p":1.30154},
{"g":"a2h","c":"g","o":1,"i":199.8,"p":1.30128},{"g":"a2h","c":"g","o":2,"i":201.9,"p":1.30154},{"g":"a2h","c":"g","o":3,"i":202.4,"p":1.30035},
{"g":"a3","c":"r","o":1,"i":180.7,"p":1.29362},{"g":"a3","c":"r","o":2,"i":186.7,"p":1.29098},
{"g":"a3h","c":"r","o":1,"i":184.7,"p":1.29079},{"g":"a3h","c":"r","o":2,"i":186.7,"p":1.29098},{"g":"a3h","c":"r","o":3,"i":186.6,"p":1.29204}
],
"notes": [
{"i":198.2,"p":1.30546,"t":"Major Resistance"},
{"i":198.2,"p":1.30433,"t":"@ 1.30500"},
{"i":198.2,"p":1.29054,"t":"Major Support"},
{"i":198.2,"p":1.28947,"t":"@ 1.29000"},
{"i":198.2,"p":1.27061,"t":"Major Support"},
{"i":198.2,"p":1.26952,"t":"@ 1.27000"}
],
"flag": [{"i":147.6,"p":1.29685,"t":"FLAG"}],
"hdr": [{"i":1.5,"p":1.31918,"t":"British Pound / U.S. Dollar, 4h, FOREX.com"}],
"macdlbl": [{"i":1.5,"v":0.00363,"t":"MACD"}],
"last": [{"i":216.3,"i2":224.3,"p":1.29453,"p2":1.29328,"ti":220.4,"v":1.29392}],
"usd": [{"i":218.7,"i2":222.8,"p":1.32002,"p2":1.31854,"ti":220.75,"pm":1.31929,"t":"USD"}]
},
"vconcat": [
{
"width": 1842,
"height": 849,
"layer": [
{"data": {"name": "candles"}, "mark": {"type": "rule", "strokeWidth": 1},
 "encoding": {
  "x": {"field": "i", "type": "quantitative", "title": null, "scale": {"domain": [0.77, 216.2], "nice": false, "zero": false},
   "axis": {"orient": "bottom", "values": [12,30,48,60,72,90,102,120,132,150,162,174,185.8,198.8,210.8], "labels": false, "ticks": false, "domain": true, "domainColor": "#50535e", "grid": true, "gridColor": "#e3ebf1", "title": null}},
  "y": {"field": "l", "type": "quantitative", "title": null, "scale": {"type": "log", "domain": [1.26465, 1.32049], "nice": false},
   "axis": {"orient": "right", "values": [1.2666,1.269,1.2715,1.274,1.277,1.28,1.283,1.286,1.29,1.294,1.298,1.302,1.306,1.31,1.315,1.32], "format": ".5f", "labelExpr": "datum.value == 1.294 ? '' : datum.label", "labelFont": "Roboto", "labelFontSize": 13, "labelColor": "#50535e", "labelPadding": 5, "tickSize": 5, "tickColor": "#50535e", "domainColor": "#50535e", "grid": true, "gridColor": "#e3ebf1", "labelOverlap": false, "labelFlush": false, "title": null}},
  "y2": {"field": "h"},
  "color": {"condition": {"test": "datum.c >= datum.o", "value": "#26a69a"}, "value": "#ef5350"}
 }},
{"data": {"name": "candles"}, "mark": {"type": "bar", "width": 7},
 "encoding": {
  "x": {"field": "i", "type": "quantitative", "title": null, "scale": {"domain": [0.77, 216.2], "nice": false, "zero": false}},
  "y": {"field": "o", "type": "quantitative", "title": null, "scale": {"type": "log", "domain": [1.26465, 1.32049], "nice": false}},
  "y2": {"field": "c"},
  "color": {"condition": {"test": "datum.c >= datum.o", "value": "#26a69a"}, "value": "#ef5350"}
 }},
{"data": {"name": "boxes"}, "mark": {"type": "rect", "fill": "#00e600", "fillOpacity": 0.17, "stroke": "#dcb48c", "strokeWidth": 1.5, "strokeOpacity": 0.75},
 "encoding": {
  "x": {"field": "i", "type": "quantitative", "title": null, "scale": {"domain": [0.77, 216.2], "nice": false, "zero": false}},
  "x2": {"field": "i2"},
  "y": {"field": "p", "type": "quantitative", "title": null, "scale": {"type": "log", "domain": [1.26465, 1.32049], "nice": false}},
  "y2": {"field": "p2"}
 }},
{"data": {"name": "channel"}, "mark": {"type": "area", "color": "#ff5252", "opacity": 0.27},
 "encoding": {
  "x": {"field": "i", "type": "quantitative", "title": null, "scale": {"domain": [0.77, 216.2], "nice": false, "zero": false}},
  "y": {"field": "top", "type": "quantitative", "title": null, "scale": {"type": "log", "domain": [1.26465, 1.32049], "nice": false}},
  "y2": {"field": "bot"}
 }},
{"data": {"name": "channel"}, "mark": {"type": "line", "color": "#7d6a6a", "strokeWidth": 1.5},
 "encoding": {
  "x": {"field": "i", "type": "quantitative", "title": null, "scale": {"domain": [0.77, 216.2], "nice": false, "zero": false}},
  "y": {"field": "top", "type": "quantitative", "title": null, "scale": {"type": "log", "domain": [1.26465, 1.32049], "nice": false}}
 }},
{"data": {"name": "channel"}, "mark": {"type": "line", "color": "#7d6a6a", "strokeWidth": 1.5},
 "encoding": {
  "x": {"field": "i", "type": "quantitative", "title": null, "scale": {"domain": [0.77, 216.2], "nice": false, "zero": false}},
  "y": {"field": "bot", "type": "quantitative", "title": null, "scale": {"type": "log", "domain": [1.26465, 1.32049], "nice": false}}
 }},
{"data": {"name": "levels"}, "mark": {"type": "rule", "color": "#38761d", "strokeWidth": 2},
 "encoding": {
  "x": {"field": "i", "type": "quantitative", "title": null, "scale": {"domain": [0.77, 216.2], "nice": false, "zero": false}},
  "x2": {"field": "i2"},
  "y": {"field": "p", "type": "quantitative", "title": null, "scale": {"type": "log", "domain": [1.26465, 1.32049], "nice": false}}
 }},
{"data": {"name": "arrows"}, "mark": {"type": "line", "strokeWidth": 2, "strokeDash": [8, 6]},
 "encoding": {
  "x": {"field": "i", "type": "quantitative", "title": null, "scale": {"domain": [0.77, 216.2], "nice": false, "zero": false}},
  "y": {"field": "p", "type": "quantitative", "title": null, "scale": {"type": "log", "domain": [1.26465, 1.32049], "nice": false}},
  "detail": {"field": "g"},
  "order": {"field": "o"},
  "color": {"field": "c", "type": "nominal", "scale": {"domain": ["g", "r"], "range": ["#6aa84f", "#ff0000"]}, "legend": null}
 }},
{"data": {"name": "notes"}, "mark": {"type": "text", "align": "left", "baseline": "middle", "fontSize": 17, "font": "Roboto", "fontWeight": 500, "color": "#5b6e84"},
 "encoding": {
  "x": {"field": "i", "type": "quantitative", "title": null, "scale": {"domain": [0.77, 216.2], "nice": false, "zero": false}},
  "y": {"field": "p", "type": "quantitative", "title": null, "scale": {"type": "log", "domain": [1.26465, 1.32049], "nice": false}},
  "text": {"field": "t"}
 }},
{"data": {"name": "flag"}, "mark": {"type": "text", "align": "center", "baseline": "middle", "fontSize": 34, "font": "Roboto", "fontWeight": "bold", "color": "#5d6f83"},
 "encoding": {
  "x": {"field": "i", "type": "quantitative", "title": null, "scale": {"domain": [0.77, 216.2], "nice": false, "zero": false}},
  "y": {"field": "p", "type": "quantitative", "title": null, "scale": {"type": "log", "domain": [1.26465, 1.32049], "nice": false}},
  "text": {"field": "t"}
 }},
{"data": {"name": "hdr"}, "mark": {"type": "text", "align": "left", "baseline": "middle", "fontSize": 17, "font": "Roboto", "fontWeight": 500, "color": "#131722"},
 "encoding": {
  "x": {"field": "i", "type": "quantitative", "title": null, "scale": {"domain": [0.77, 216.2], "nice": false, "zero": false}},
  "y": {"field": "p", "type": "quantitative", "title": null, "scale": {"type": "log", "domain": [1.26465, 1.32049], "nice": false}},
  "text": {"field": "t"}
 }},
{"data": {"name": "last"}, "mark": {"type": "rect", "color": "#ef5350"},
 "encoding": {
  "x": {"field": "i", "type": "quantitative", "title": null, "scale": {"domain": [0.77, 216.2], "nice": false, "zero": false}},
  "x2": {"field": "i2"},
  "y": {"field": "p", "type": "quantitative", "title": null, "scale": {"type": "log", "domain": [1.26465, 1.32049], "nice": false}},
  "y2": {"field": "p2"}
 }},
{"data": {"name": "last"}, "mark": {"type": "text", "align": "center", "baseline": "middle", "fontSize": 13, "font": "Roboto", "color": "white"},
 "encoding": {
  "x": {"field": "ti", "type": "quantitative", "title": null, "scale": {"domain": [0.77, 216.2], "nice": false, "zero": false}},
  "y": {"field": "v", "type": "quantitative", "title": null, "scale": {"type": "log", "domain": [1.26465, 1.32049], "nice": false}},
  "text": {"field": "v", "type": "quantitative", "format": ".5f"}
 }},
{"data": {"name": "usd"}, "mark": {"type": "rect", "fill": "white", "stroke": "#d1d4dc", "strokeWidth": 1, "cornerRadius": 3},
 "encoding": {
  "x": {"field": "i", "type": "quantitative", "title": null, "scale": {"domain": [0.77, 216.2], "nice": false, "zero": false}},
  "x2": {"field": "i2"},
  "y": {"field": "p", "type": "quantitative", "title": null, "scale": {"type": "log", "domain": [1.26465, 1.32049], "nice": false}},
  "y2": {"field": "p2"}
 }},
{"data": {"name": "usd"}, "mark": {"type": "text", "align": "center", "baseline": "middle", "fontSize": 12, "font": "Roboto", "color": "#50535e"},
 "encoding": {
  "x": {"field": "ti", "type": "quantitative", "title": null, "scale": {"domain": [0.77, 216.2], "nice": false, "zero": false}},
  "y": {"field": "pm", "type": "quantitative", "title": null, "scale": {"type": "log", "domain": [1.26465, 1.32049], "nice": false}},
  "text": {"field": "t"}
 }}
]
},
{
"width": 1842,
"height": 149,
"layer": [
{"data": {"name": "hist"}, "mark": {"type": "bar", "width": 7},
 "encoding": {
  "x": {"field": "i", "type": "quantitative", "title": null, "scale": {"domain": [0.77, 216.2], "nice": false, "zero": false},
   "axis": {"orient": "bottom", "values": [12,30,48,60,72,90,102,120,132,150,162,174,185.8,198.8,210.8],
    "labelExpr": "datum.value==12?'23':datum.value==30?'28':datum.value==48?'Oct':datum.value==60?'5':datum.value==72?'7':datum.value==90?'12':datum.value==102?'14':datum.value==120?'19':datum.value==132?'21':datum.value==150?'26':datum.value==162?'28':datum.value==174?'30':datum.value==185.8?'Nov':datum.value==198.8?'3':'5'",
    "labelFontWeight": {"condition": {"test": "datum.value==48 || datum.value==185.8", "value": "bold"}, "value": "normal"},
    "labelFont": "Roboto", "labelFontSize": 13, "labelColor": "#50535e", "labelPadding": 4, "labelFlush": false, "labelOverlap": false,
    "tickSize": 6, "tickColor": "#50535e", "domainColor": "#50535e", "grid": true, "gridColor": "#e3ebf1", "title": null}},
  "y": {"field": "h", "type": "quantitative", "title": null, "scale": {"domain": [-0.00609, 0.00523], "nice": false, "zero": false},
   "axis": {"orient": "right", "values": [0.005, 0, -0.005], "format": ".5f", "labelFont": "Roboto", "labelFontSize": 13, "labelColor": "#50535e", "labelPadding": 5, "tickSize": 5, "tickColor": "#50535e", "domainColor": "#50535e", "grid": true, "gridColor": "#e3ebf1", "labelOverlap": false, "labelFlush": false, "title": null}},
  "y2": {"datum": 0},
  "color": {"condition": [
    {"test": "datum.h >= 0 && datum.d == 'r'", "value": "#26a69a"},
    {"test": "datum.h >= 0", "value": "#b2dfdb"},
    {"test": "datum.d == 'f'", "value": "#ef5350"}],
   "value": "#ffcdd2"}
 }},
{"data": {"name": "lines"}, "mark": {"type": "line", "strokeWidth": 1.5},
 "encoding": {
  "x": {"field": "i", "type": "quantitative", "title": null, "scale": {"domain": [0.77, 216.2], "nice": false, "zero": false}},
  "y": {"field": "v", "type": "quantitative", "title": null, "scale": {"domain": [-0.00609, 0.00523], "nice": false, "zero": false}},
  "color": {"field": "s", "type": "nominal", "scale": {"domain": ["MACD", "Signal"], "range": ["#2196f3", "#ff6d00"]}, "legend": null}
 }},
{"data": {"name": "macdlbl"}, "mark": {"type": "text", "align": "left", "baseline": "middle", "fontSize": 15, "font": "Roboto", "color": "#4a4e59"},
 "encoding": {
  "x": {"field": "i", "type": "quantitative", "title": null, "scale": {"domain": [0.77, 216.2], "nice": false, "zero": false}},
  "y": {"field": "v", "type": "quantitative", "title": null, "scale": {"domain": [-0.00609, 0.00523], "nice": false, "zero": false}},
  "text": {"field": "t"}
 }}
]
}
]
}
